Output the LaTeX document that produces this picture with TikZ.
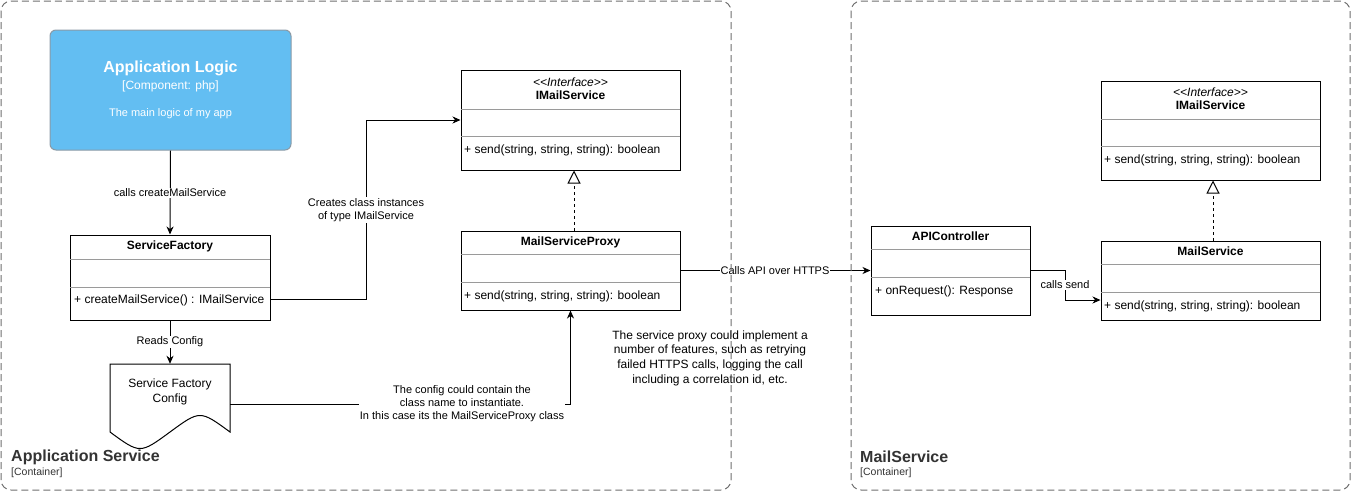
\documentclass[tikz,border=0pt]{standalone}
\usepackage{fontspec}
\setmainfont{Liberation Sans}
\usetikzlibrary{arrows.meta,calc}
\definecolor{logicfill}{HTML}{63BEF2}
\definecolor{logicline}{HTML}{8A9AA6}
\definecolor{divgray}{HTML}{9A9A9A}
\definecolor{contline}{HTML}{6E6E6E}
\definecolor{conttext}{HTML}{333333}
\tikzset{
  cls/.style={draw=black, line width=1pt, fill=white, inner sep=0pt},
  div/.style={draw=divgray, line width=1pt},
  ttl/.style={font=\fontsize{12}{14}\selectfont\bfseries, inner sep=0pt},
  stereo/.style={font=\fontsize{12}{14}\selectfont\itshape, inner sep=0pt},
  mth/.style={font=\fontsize{12}{14}\selectfont, anchor=west, inner sep=0pt},
  lbl/.style={font=\fontsize{11}{13}\selectfont, fill=white, inner sep=1pt, align=center},
  arr/.style={draw=black, line width=1pt, -{Stealth[length=8pt,width=7pt,inset=2.5pt]}},
  real/.style={draw=black, line width=1pt, dash pattern=on 3pt off 3pt, -{Triangle[open,length=13pt,width=13pt,line width=1pt]}},
  container/.style={draw=contline, line width=1pt, dash pattern=on 7pt off 4pt, rounded corners=10pt},
  conttitle/.style={font=\fontsize{16}{18}\selectfont\bfseries, text=conttext, anchor=west, inner sep=0pt},
  contsub/.style={font=\fontsize{10.5}{12}\selectfont, text=conttext, anchor=west, inner sep=0pt},
}
\newcommand{\stereotxt}{<\kern0pt<Interface>\kern0pt>}
\begin{document}
\begin{tikzpicture}[x=1pt,y=-1pt]
\useasboundingbox (0,0) rectangle (1351,491);

% Application Logic
\node[draw=logicline, fill=logicfill, line width=1pt, rounded corners=6pt, minimum width=241pt, minimum height=120pt, inner sep=0pt] (al) at (170.5,90) {};
\node[font=\fontsize{16}{18}\selectfont\bfseries, text=white, inner sep=0pt] (alt) at (170.5,68) {Application Logic};
\node[font=\fontsize{12}{14}\selectfont, text=white, inner sep=0pt] (als) at (170.5,86) {[Component: php]};
\node[font=\fontsize{11}{13}\selectfont, text=white, inner sep=0pt] (ald) at (170.5,114) {The main logic of my app};

% ServiceFactory
\node[cls, minimum width=200pt, minimum height=85pt] (sf) at (170,277.5) {};
\draw[div] (70,259) -- (270,259);
\draw[div] (70,287) -- (270,287);
\node[ttl] (sft) at (170,246) {ServiceFactory};
\node[mth] (sfm) at (74,300) {+ createMailService() : IMailService};

% Config document
\node[minimum width=120pt, minimum height=80pt, inner sep=0pt] (cfg) at (170,404) {};
\draw[line width=1pt, fill=white] (110,364) -- (230,364) -- (230,432) .. controls (200,410) .. (170,432) .. controls (140,454) .. (110,432) -- cycle;
\node[font=\fontsize{12}{14.5}\selectfont, align=center, inner sep=0pt] (cfgt) at (170,392) {Service Factory\\Config};

% IMailService (left)
\node[cls, minimum width=219pt, minimum height=100pt] (ims1) at (570.5,120) {};
\draw[div] (461,109) -- (680,109);
\draw[div] (461,136) -- (680,136);
\node[stereo] (ims1s) at (570.5,82) {\stereotxt};
\node[ttl] (ims1t) at (570.5,95.5) {IMailService};
\node[mth] (ims1m) at (464,150.5) {+ send(string, string, string): boolean};

% MailServiceProxy
\node[cls, minimum width=219pt, minimum height=79pt] (msp) at (570.5,270.5) {};
\draw[div] (461,254) -- (680,254);
\draw[div] (461,282) -- (680,282);
\node[ttl] (mspt) at (570.5,242) {MailServiceProxy};
\node[mth] (mspm) at (464,296.5) {+ send(string, string, string): boolean};

% APIController
\node[cls, minimum width=159pt, minimum height=89pt] (api) at (950.5,270.5) {};
\draw[div] (871,249) -- (1030,249);
\draw[div] (871,277) -- (1030,277);
\node[ttl] (apit) at (950.5,236.5) {APIController};
\node[mth] (apim) at (875,291.5) {+ onRequest(): Response};

% IMailService (right)
\node[cls, minimum width=219pt, minimum height=99pt] (ims2) at (1210.5,130.5) {};
\draw[div] (1101,119) -- (1320,119);
\draw[div] (1101,146) -- (1320,146);
\node[stereo] (ims2s) at (1210.5,92) {\stereotxt};
\node[ttl] (ims2t) at (1210.5,105.5) {IMailService};
\node[mth] (ims2m) at (1104,160.5) {+ send(string, string, string): boolean};

% MailService
\node[cls, minimum width=219pt, minimum height=79pt] (ms) at (1210.5,280.5) {};
\draw[div] (1101,264) -- (1320,264);
\draw[div] (1101,292) -- (1320,292);
\node[ttl] (mst) at (1210.5,251.5) {MailService};
\node[mth] (msm) at (1104,306.5) {+ send(string, string, string): boolean};

% Connectors
\draw[arr] (al.south) -- (sf.north);
\node[lbl] (l1) at (170,193) {calls createMailService};

\draw[arr] (sf.east |- 0,299.5) -- (366,299.5) -- (366,120) -- (ims1.west);
\node[lbl] (l2) at (366,210) {Creates class instances\\of type IMailService};

\draw[arr] (sf.south) -- (cfg.north);
\node[lbl] (l3) at (170,342) {Reads Config};

\draw[arr] (cfg.east) -| (msp.south);
\node[lbl] (l4) at (462,404) {The config could contain the\\class name to instantiate.\\In this case its the MailServiceProxy class};

\draw[real] (msp.north -| 574,0) -- (ims1.south -| 574,0);

\draw[arr] (msp.east) -- (api.west);
\node[lbl] (l5) at (775,270.5) {Calls API over HTTPS};

\coordinate (cs) at (1065,285);
\draw[arr] (api.east) -| (cs) |- (ms.west |- 0,300);
\node[lbl] (l6) at (cs) {calls send};

\draw[real] (ms.north -| 1213,0) -- (ims2.south -| 1213,0);

% Note
\node[font=\fontsize{12}{14.7}\selectfont, align=center, inner sep=0pt] (note) at (710,358) {The service proxy could implement a\\number of features, such as retrying\\failed HTTPS calls, logging the call\\including a correlation id, etc.};

% Containers
\draw[container] (1,1) rectangle (731,490);
\node[conttitle] (c1t) at (11,457) {Application Service};
\node[contsub] (c1s) at (11,472.5) {[Container]};

\draw[container] (851,1) rectangle (1350,490);
\node[conttitle] (c2t) at (860,457) {MailService};
\node[contsub] (c2s) at (860,472.5) {[Container]};
\end{tikzpicture}
\end{document}
